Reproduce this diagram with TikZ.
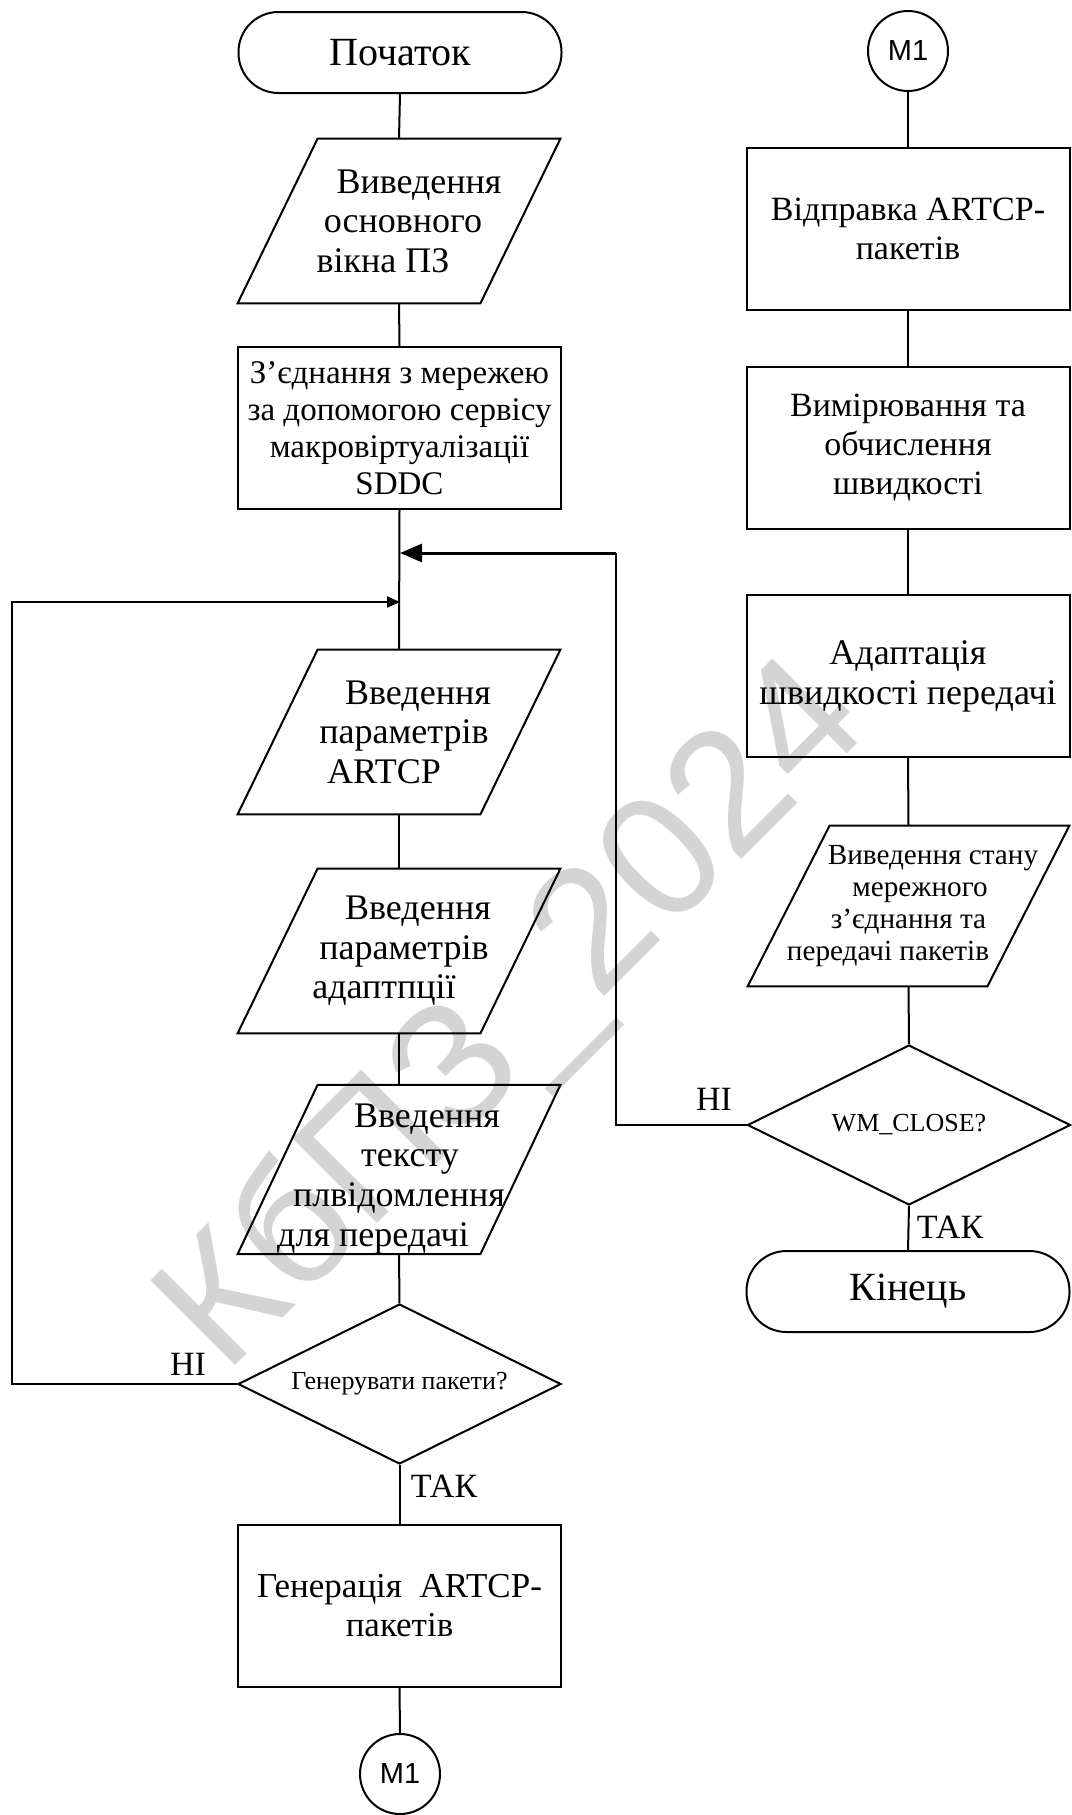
\documentclass[tikz,border=0pt]{standalone}
\usepackage{fontspec}
\setmainfont{Liberation Serif}
\newfontfamily\sansfam{Liberation Sans}
\usetikzlibrary{shapes.geometric,arrows.meta,calc}
\newcommand\paral[2]{\draw[line width=1pt,line join=miter] ($(#1.north west)+(#2,0)$) -- (#1.north east) -- ($(#1.south east)-(#2,0)$) -- (#1.south west) -- cycle;}
\begin{document}
\begin{tikzpicture}[x=0.5pt,y=-0.5pt,
  base/.style={draw, line width=1pt, inner sep=0pt, align=center},
  term/.style={base, rectangle, rounded corners=20pt, minimum width=161.5pt, minimum height=40.5pt, font=\fontsize{20}{24}\selectfont},
  proc/.style={base, rectangle, minimum width=161.5pt, minimum height=81pt, font=\fontsize{17}{19.5}\selectfont},
  iobox/.style={inner sep=0pt, align=center, minimum width=161pt, minimum height=82pt, font=\fontsize{18}{19.8}\selectfont},
  decision/.style={base, diamond, aspect=2, minimum width=161.5pt, minimum height=80pt, font=\fontsize{13}{15}\selectfont},
  conn/.style={base, circle, minimum size=40pt, font=\sansfam\fontsize{14.5}{16}\selectfont},
  lbl/.style={inner sep=0pt, font=\fontsize{17}{19}\selectfont},
  line/.style={line width=1pt},
  bigarrow/.style={line width=1.5pt, -{Triangle[length=11pt,width=9pt]}},
  smallarrow/.style={line width=1pt, -{Triangle[length=6.5pt,width=5.5pt]}}
]
\useasboundingbox (0,0) rectangle (1071,1815);
\fill[white] (0,0) rectangle (1071,1815);

% watermark
\node[rotate=45, text=black!17, inner sep=0pt, font=\sansfam\fontsize{87}{87}\selectfont] (wm) at (516,1019) {КбПЗ\_2024};

% left column
\node[term] (start) at (400,52.5) {Початок};
\node[iobox] (io1) at (399,221) {\hspace*{20pt}Виведення\\\hspace*{4pt}основного\\вікна ПЗ\hspace*{16pt}};
\paral{io1}{80}
\node[proc, font=\fontsize{16.5}{18.5}\selectfont] (link) at (399.5,428) {З’єднання з мережею\\за допомогою сервісу\\макровіртуалізації\\SDDC};
\coordinate (jA) at (400,553);
\coordinate (jB) at (400,602);
\node[iobox] (io2) at (399,732) {\hspace*{19pt}Введення\\\hspace*{5pt}параметрів\\ARTCP\hspace*{15pt}};
\paral{io2}{80}
\node[iobox] (io3) at (399,951) {\hspace*{19pt}Введення\\\hspace*{5pt}параметрів\\адаптпції\hspace*{15pt}};
\paral{io3}{80}
\node[iobox, minimum height=81.5pt] (io4) at (399,1169.5) {\rule{0pt}{21pt}\hspace*{28pt}Введення\\\hspace*{11pt}тексту\\плвідомлення\hspace*{6pt}\\для передачі\hspace*{26pt}};
\paral{io4}{80}
\node[decision] (dec1) at (399.5,1384) {Генерувати пакети?};
\node[proc, font=\fontsize{17.5}{19.5}\selectfont] (gen) at (399.5,1605.5) {Генерація\ \ ARTCP-\\пакетів};
\node[conn] (m1b) at (400,1774) {M1};

% right column
\node[conn] (m1t) at (908,51) {M1};
\node[proc] (send) at (908,229) {Відправка ARTCP-\\пакетів};
\node[proc] (meas) at (908,448) {Вимірювання та\\обчислення\\швидкості};
\node[proc, font=\fontsize{18}{20}\selectfont] (adapt) at (908,676) {Адаптація\\швидкості передачі};
\node[iobox, minimum width=160.5pt, minimum height=80pt, font=\fontsize{14.6}{16}\selectfont] (io5) at (908.5,906) {\hspace*{24.5pt}Виведення стану\\\hspace*{11.5pt}мережного\\з’єднання та\hspace*{4.5pt}\\передачі пакетів\hspace*{20.5pt}};
\paral{io5}{82}
\node[decision] (dec2) at (909,1125) {WM\_CLOSE?};
\node[term] (end) at (908,1291.5) {Кінець};

% connectors left
\draw[line] (start.south) -- (io1.north);
\draw[line] (io1.south) -- (link.north);
\draw[line] (link.south) -- (io2.north);
\draw[line] (io2.south) -- (io3.north);
\draw[line] (io3.south) -- (io4.north);
\draw[line] (io4.south) -- (dec1.north);
\draw[line] (dec1.south) -- (gen.north);
\draw[line] (gen.south) -- (m1b.north);
\coordinate (lc) at (12,0);
\draw[smallarrow] (dec1.west) -- (dec1.west -| lc) |- (jB);

% connectors right
\draw[line] (m1t.south) -- (send.north);
\draw[line] (send.south) -- (meas.north);
\draw[line] (meas.south) -- (adapt.north);
\draw[line] (adapt.south) -- (io5.north);
\draw[line] (io5.south) -- (dec2.north);
\draw[line] (dec2.south) -- (end.north);
\coordinate (rc) at (616,0);
\draw[line] (dec2.west) -- (dec2.west -| rc) -- (rc |- jA);
\draw[bigarrow] (rc |- jA) -- (jA);

% labels
\node[lbl] (no1) at (188,1364) {НІ};
\node[lbl] (yes1) at (444,1486) {ТАК};
\node[lbl] (no2) at (714,1099) {НІ};
\node[lbl] (yes2) at (950,1227) {ТАК};
\end{tikzpicture}
\end{document}
